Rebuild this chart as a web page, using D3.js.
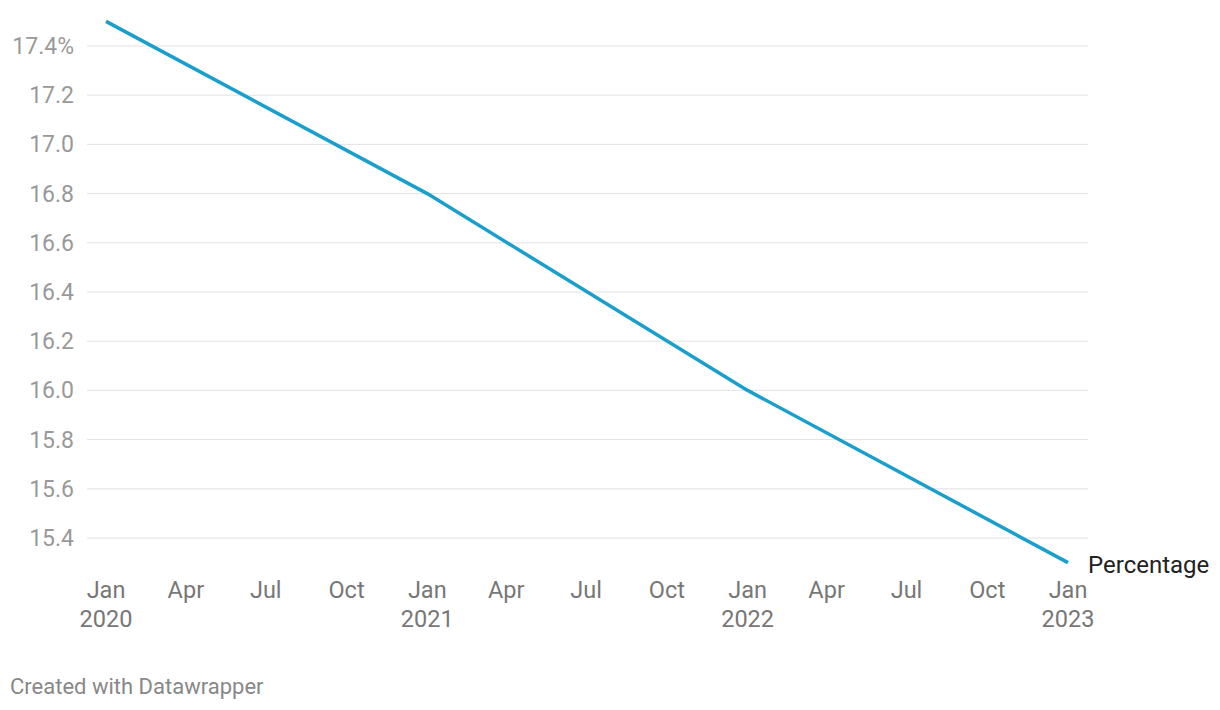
<!DOCTYPE html>
<html><head><meta charset="utf-8">
<script src="https://cdn.jsdelivr.net/npm/d3@7"></script>
<style>body{margin:0;background:#fff;font-family:Roboto,"Noto Sans",sans-serif;}</style>
</head><body>
<svg id="c" width="1220" height="710"></svg>
<script>
const dates = ["2020-01-01","2021-01-01","2022-01-01","2023-01-01"];
const values = [17.5, 16.8, 16.0, 15.3];
const yTicks = [15.4,15.6,15.8,16.0,16.2,16.4,16.6,16.8,17.0,17.2,17.4];
const seriesName = "Percentage";

const parse = d3.timeParse("%Y-%m-%d");
const data = dates.map((d,i)=>({date:parse(d), value:values[i]}));
const svg = d3.select("#c");
const x = d3.scaleTime().domain([parse("2020-01-01"), parse("2023-01-01")]).range([106,1068]);
const y = d3.scaleLinear().domain([15.4,17.4]).range([538,46]);

const g = svg.append("g");
g.selectAll("line.grid").data(yTicks).join("line")
  .attr("x1",87).attr("x2",1088)
  .attr("y1",d=>y(d)).attr("y2",d=>y(d))
  .attr("stroke","#e2e2e2").attr("stroke-width",1);
g.selectAll("text.yl").data(yTicks).join("text")
  .attr("x",74).attr("y",d=>y(d)).attr("dy","0.35em")
  .attr("text-anchor","end").attr("fill","#999").attr("font-size",23)
  .text(d=> d===17.4 ? d.toFixed(1)+"%" : d.toFixed(1));

const xTicks = d3.timeMonth.every(3).range(parse("2020-01-01"), parse("2023-01-02"));
const months = ["Jan","Feb","Mar","Apr","May","Jun","Jul","Aug","Sep","Oct","Nov","Dec"];
const xt = g.selectAll("g.xt").data(xTicks).join("g").attr("transform",d=>`translate(${x(d)},0)`);
xt.append("text").attr("y",598).attr("text-anchor","middle").attr("fill","#777").attr("font-size",23.5)
  .text(d=>months[d.getMonth()]);
xt.filter(d=>d.getMonth()===0).append("text").attr("y",627).attr("text-anchor","middle").attr("fill","#777").attr("font-size",23.5)
  .text(d=>d.getFullYear());

const line = d3.line().x(d=>x(d.date)).y(d=>y(d.value));
g.append("path").datum(data).attr("d",line).attr("fill","none")
  .attr("stroke","#1a9fcd").attr("stroke-width",3.5).attr("stroke-linejoin","round");

const last = data[data.length-1];
g.append("text").attr("x",x(last.date)+20).attr("y",y(last.value)+1.5).attr("dy","0.35em")
  .attr("fill","#222").attr("font-size",24).text(seriesName);

svg.append("text").attr("x",10).attr("y",694).attr("fill","#888").attr("font-size",22).text("Created with Datawrapper");
</script>
</body></html>
